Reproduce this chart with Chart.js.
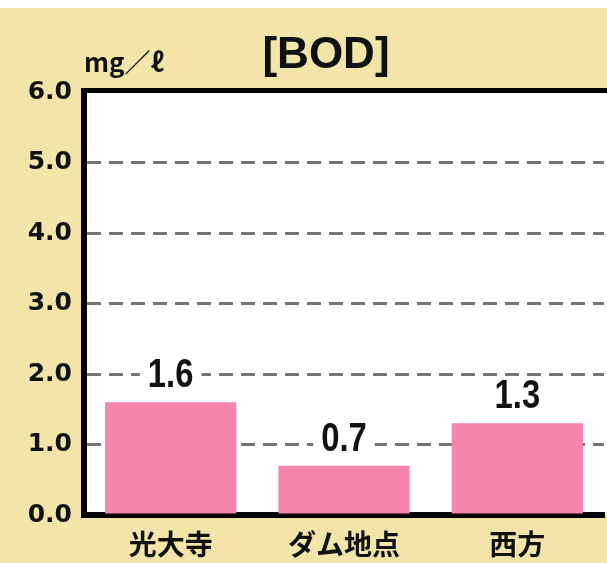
<!DOCTYPE html>
<html>
<head>
<meta charset="utf-8">
<script src="https://cdn.jsdelivr.net/npm/chart.js@4"></script>
<style>
  html, body { margin: 0; padding: 0; background: #f3e5a9; }
  #wrap { width: 607px; height: 563px; }
</style>
</head>
<body>
<div id="wrap"><canvas id="bod-chart" width="607" height="563"></canvas></div>
<script>
var categories = ["光大寺", "ダム地点", "西方"];
var bodValues = [1.6, 0.7, 1.3];
var yTicks = [0, 1, 2, 3, 4, 5, 6];

var beige = "#f3e5a9";
var pink = "#f585aa";

// background, white plot area, white strip at the very top
var backdrop = {
  id: "backdrop",
  beforeDraw: function (chart) {
    let ctx = chart.ctx;
    let a = chart.chartArea;
    ctx.save();
    ctx.fillStyle = beige;
    ctx.fillRect(0, 0, chart.width, chart.height);
    ctx.fillStyle = "#ffffff";
    ctx.fillRect(0, 0, chart.width, 8);
    ctx.fillRect(a.left, a.top, chart.width - a.left, a.bottom - a.top);
    ctx.restore();
  },
  afterDraw: function (chart) {
    let ctx = chart.ctx;
    let a = chart.chartArea;
    ctx.save();
    // top frame line
    ctx.fillStyle = "#000";
    ctx.fillRect(a.left - 3, a.top - 4, chart.width - a.left + 3, 5);
    // title and unit
    ctx.fillStyle = "#111";
    ctx.textAlign = "center";
    ctx.textBaseline = "alphabetic";
    ctx.font = "bold 44px 'Liberation Sans', Arial, sans-serif";
    ctx.fillText("[BOD]", 326, 68);
    ctx.textAlign = "left";
    ctx.font = "bold 26px 'Noto Sans CJK JP', sans-serif";
    ctx.fillText("mg／ℓ", 84, 72);
    ctx.restore();
  }
};

// value labels above the bars, with a white box that hides the grid line
var valueLabels = {
  id: "valueLabels",
  afterDatasetsDraw: function (chart) {
    let ctx = chart.ctx;
    let meta = chart.getDatasetMeta(0);
    let squeeze = 0.82;
    ctx.save();
    ctx.font = "bold 40px 'Liberation Sans', Arial, sans-serif";
    ctx.textAlign = "center";
    ctx.textBaseline = "alphabetic";
    meta.data.forEach(function (bar, i) {
      let text = bodValues[i].toFixed(1);
      let w = ctx.measureText(text).width * squeeze;
      let base = bar.y - 15;
      ctx.fillStyle = "#ffffff";
      ctx.fillRect(bar.x - w / 2 - 8, base - 30, w + 16, 32);
      ctx.save();
      ctx.translate(bar.x, base);
      ctx.scale(squeeze, 1);
      ctx.fillStyle = "#111";
      ctx.fillText(text, 0, 0);
      ctx.restore();
    });
    ctx.restore();
  }
};

var ctx = document.getElementById("bod-chart").getContext("2d");
var myChart = new Chart(ctx, {
  type: "bar",
  data: {
    labels: categories,
    datasets: [{
      label: "BOD",
      data: bodValues,
      backgroundColor: pink,
      borderWidth: 0,
      categoryPercentage: 1,
      barPercentage: 0.757
    }]
  },
  options: {
    responsive: false,
    animation: false,
    events: [],
    layout: { padding: { top: 92, right: 3, left: 0, bottom: 0 } },
    plugins: {
      legend: { display: false },
      tooltip: { enabled: false },
      title: { display: false }
    },
    scales: {
      x: {
        afterFit: function (scale) { scale.height = 48; },
        grid: { display: false, drawTicks: false },
        border: { display: true, color: "#000", width: 6 },
        ticks: {
          color: "#111",
          padding: 13,
          font: { family: "'Noto Sans CJK JP', sans-serif", size: 28, weight: "bold" }
        }
      },
      y: {
        min: 0,
        max: 6,
        afterFit: function (scale) { scale.width = 84; },
        afterBuildTicks: function (scale) {
          scale.ticks = yTicks.map(function (v) { return { value: v }; });
        },
        grid: {
          drawTicks: false,
          color: function (c) {
            return (c.tick.value === 0 || c.tick.value === 6) ? "rgba(0,0,0,0)" : "#747474";
          },
          lineWidth: 3
        },
        border: { display: true, color: "#000", width: 6, dash: [14, 8] },
        ticks: {
          color: "#111",
          padding: 12,
          font: { family: "'DejaVu Sans', sans-serif", size: 25, weight: "bold" },
          callback: function (v) { return v.toFixed(1); }
        }
      }
    }
  },
  plugins: [backdrop, valueLabels]
});
</script>
</body>
</html>
